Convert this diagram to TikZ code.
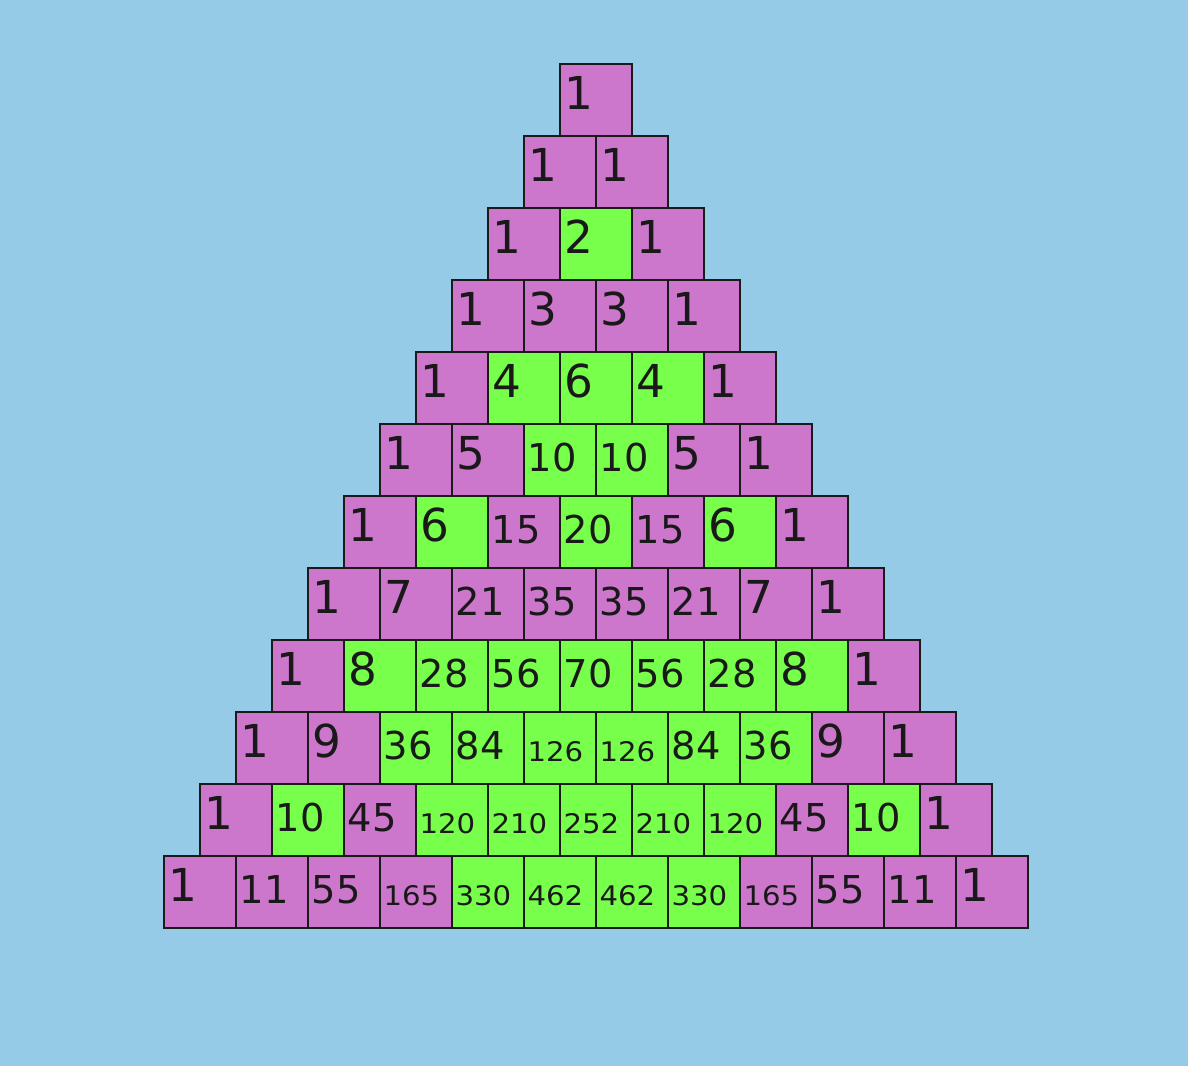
\documentclass[tikz,border=0pt]{standalone}
\usepackage{fontspec}
\setmainfont{DejaVu Sans}
\definecolor{bgc}{HTML}{96CBE8}
\definecolor{oddc}{HTML}{CC77CC}
\definecolor{evenc}{HTML}{77FF4C}
\definecolor{linec}{HTML}{1A1A1A}
\begin{document}
\begin{tikzpicture}[x=0.75pt,y=-0.75pt,
  cell/.style={draw=linec,line width=1.3pt,minimum width=54pt,minimum height=54pt,inner sep=0pt,anchor=north west},
  num/.style={inner sep=0pt,anchor=base west,text=black!90}]
\fill[bgc] (0,0) rectangle (1188,1066);
\useasboundingbox (0,0) rectangle (1188,1066);
\foreach \row [count=\r from 0] in {{1},{1,1},{1,2,1},{1,3,3,1},{1,4,6,4,1},{1,5,10,10,5,1},{1,6,15,20,15,6,1},{1,7,21,35,35,21,7,1},{1,8,28,56,70,56,28,8,1},{1,9,36,84,126,126,84,36,9,1},{1,10,45,120,210,252,210,120,45,10,1},{1,11,55,165,330,462,462,330,165,55,11,1}} {
  \foreach \v [count=\k from 0] in \row {
    \pgfmathsetmacro\xl{595-36*(\r+1)+72*\k}
    \pgfmathsetmacro\yt{63+72*\r}
    \ifodd\v\relax \def\fc{oddc}\else \def\fc{evenc}\fi
    \ifnum\v<10\relax
      \def\fs{\fontsize{34}{40}\selectfont}\def\dy{46.8}\def\dx{5}\def\sx{1}%
    \else\ifnum\v<100\relax
      \def\fs{\fontsize{28.8}{34}\selectfont}\def\dy{48.4}\def\dx{4.5}\def\sx{1}%
    \else
      \def\fs{\fontsize{20.25}{24}\selectfont}\def\dy{50}\def\dx{4.3}\def\sx{1.08}%
    \fi\fi
    \node[cell,fill=\fc] (c-\r-\k) at (\xl,\yt) {};
    \node[num] (t-\r-\k) at (\xl+\dx,\yt+\dy) {\scalebox{\sx}[1]{\fs\v}};
  }
}
\end{tikzpicture}
\end{document}
